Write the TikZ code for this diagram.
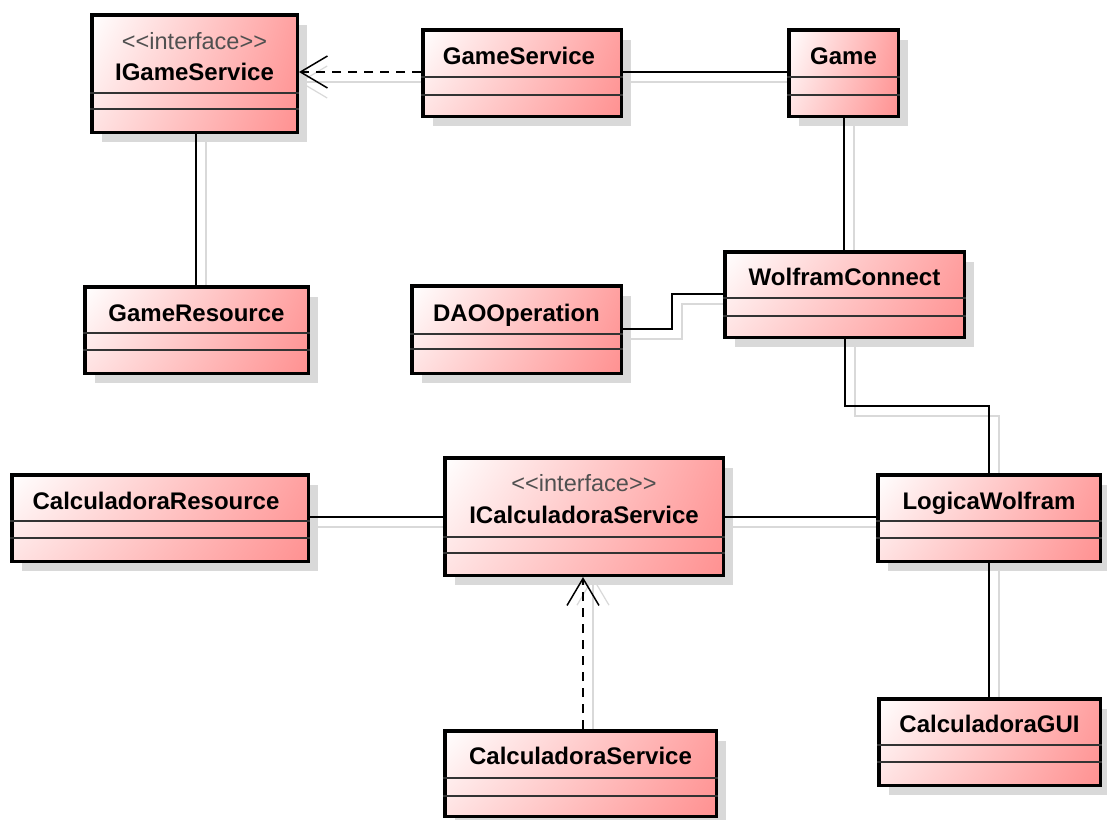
\documentclass[tikz,border=0pt]{standalone}
\usepackage{fontspec}
\setmainfont{Liberation Sans}
\usetikzlibrary{arrows.meta,shadows,shadings}

\definecolor{pinkUR}{RGB}{255,160,160}
\definecolor{pinkLR}{RGB}{255,145,145}
\definecolor{pinkLL}{RGB}{255,226,226}
\definecolor{stereo}{RGB}{80,80,80}

\tikzset{
  x=1pt, y=-1pt,
  classbox/.style={draw=black, line width=3.5pt, inner sep=0pt, shade,
    upper left=white, upper right=pinkUR, lower left=pinkLL, lower right=pinkLR,
    drop shadow={shadow xshift=10pt, shadow yshift=-10pt, fill=black!15, opacity=1}},
  complin/.style={draw=black!80, line width=1.4pt},
  clsname/.style={anchor=base, inner sep=0pt, font=\fontsize{24pt}{28pt}\selectfont\bfseries},
  clsstereo/.style={anchor=base, inner sep=0pt, text=stereo, font=\fontsize{23.5pt}{27pt}\selectfont},
  openhead/.style={-{Straight Barb[length=27pt, width=32pt]}},
  assoc/.style={draw=black, line width=1.5pt},
  realize/.style={draw=black, line width=1.5pt, dash pattern=on 9pt off 7pt, openhead},
  lshadow/.style={draw=black!15, line width=1.2pt, shift={(10,10)}},
  lshadowarrow/.style={lshadow, openhead}
}

\begin{document}
\begin{tikzpicture}
\fill[white] (0,0) rectangle (1107,819);
\useasboundingbox (0,0) rectangle (1107,819);

% class boxes
\node[classbox, minimum width=205.5pt, minimum height=117.5pt] (igs)  at (194.5,73.5) {};
\node[classbox, minimum width=198.5pt, minimum height=86.5pt]  (gsv)  at (522,73) {};
\node[classbox, minimum width=109.5pt, minimum height=86.5pt]  (game) at (843.5,73) {};
\node[classbox, minimum width=223.5pt, minimum height=86.5pt]  (gres) at (196.5,330) {};
\node[classbox, minimum width=209.5pt, minimum height=87.5pt]  (dao)  at (516.5,329.5) {};
\node[classbox, minimum width=239.5pt, minimum height=85.5pt]  (wc)   at (844.5,294.5) {};
\node[classbox, minimum width=296.5pt, minimum height=86.5pt]  (cres) at (160,518) {};
\node[classbox, minimum width=278.5pt, minimum height=117.5pt] (ics)  at (584,516.5) {};
\node[classbox, minimum width=222.5pt, minimum height=86.5pt]  (lw)   at (989,518) {};
\node[classbox, minimum width=221.5pt, minimum height=86.5pt]  (cgui) at (989.5,742) {};
\node[classbox, minimum width=271.5pt, minimum height=85.5pt]  (csv)  at (580.5,773.5) {};

% compartment separators (attributes / operations)
\foreach \c/\a/\b in {igs/93/109, gsv/77/95, game/77/95, gres/333/350, dao/334/349,
                      wc/298/316, cres/521/538, ics/537/553, lw/521/538, cgui/745/762, csv/778/796} {
  \draw[complin] (\c.west |- 0,\a) -- (\c.east |- 0,\a);
  \draw[complin] (\c.west |- 0,\b) -- (\c.east |- 0,\b);
}

% class names and stereotypes
\node[clsstereo] (igs-st) at (194.5,49) {<{}<interface>{}>};
\node[clsname]   (igs-n)  at (194.5,80) {IGameService};
\node[clsname]   (gsv-n)  at (519,64) {GameService};
\node[clsname]   (game-n) at (843.5,64) {Game};
\node[clsname]   (gres-n) at (196.5,321) {GameResource};
\node[clsname]   (dao-n)  at (516.5,321) {DAOOperation};
\node[clsname]   (wc-n)   at (844.5,285) {WolframConnect};
\node[clsname]   (cres-n) at (156,509) {CalculadoraResource};
\node[clsstereo] (ics-st) at (584,491) {<{}<interface>{}>};
\node[clsname]   (ics-n)  at (584,523) {ICalculadoraService};
\node[clsname]   (lw-n)   at (989,509) {LogicaWolfram};
\node[clsname]   (cgui-n) at (989.5,732) {CalculadoraGUI};
\node[clsname]   (csv-n)  at (580.5,764) {CalculadoraService};

% soft shadows of the connectors
\draw[lshadowarrow] (gsv.west |- 0,72) -- (igs.east |- 0,72);
\draw[lshadow] (gsv.east |- 0,72) -- (game.west |- 0,72);
\draw[lshadow] (igs.south -| 196,0) -- (gres.north -| 196,0);
\draw[lshadow] (game.south -| 844,0) -- (wc.north -| 844,0);
\draw[lshadow] (dao.east |- 0,329) -| (672,294) -- (wc.west |- 0,294);
\draw[lshadow] (wc.south -| 845,0) |- (989,406) -- (lw.north -| 989,0);
\draw[lshadow] (cres.east |- 0,517) -- (ics.west |- 0,517);
\draw[lshadow] (ics.east |- 0,517) -- (lw.west |- 0,517);
\draw[lshadow] (lw.south -| 989,0) -- (cgui.north -| 989,0);
\draw[lshadowarrow] (csv.north -| 583,0) -- (ics.south -| 583,0);

% connectors
\draw[realize] (gsv.west |- 0,72) -- (igs.east |- 0,72);
\draw[assoc] (gsv.east |- 0,72) -- (game.west |- 0,72);
\draw[assoc] (igs.south -| 196,0) -- (gres.north -| 196,0);
\draw[assoc] (game.south -| 844,0) -- (wc.north -| 844,0);
\draw[assoc] (dao.east |- 0,329) -| (672,294) -- (wc.west |- 0,294);
\draw[assoc] (wc.south -| 845,0) |- (989,406) -- (lw.north -| 989,0);
\draw[assoc] (cres.east |- 0,517) -- (ics.west |- 0,517);
\draw[assoc] (ics.east |- 0,517) -- (lw.west |- 0,517);
\draw[assoc] (lw.south -| 989,0) -- (cgui.north -| 989,0);
\draw[realize] (csv.north -| 583,0) -- (ics.south -| 583,0);
\end{tikzpicture}
\end{document}
